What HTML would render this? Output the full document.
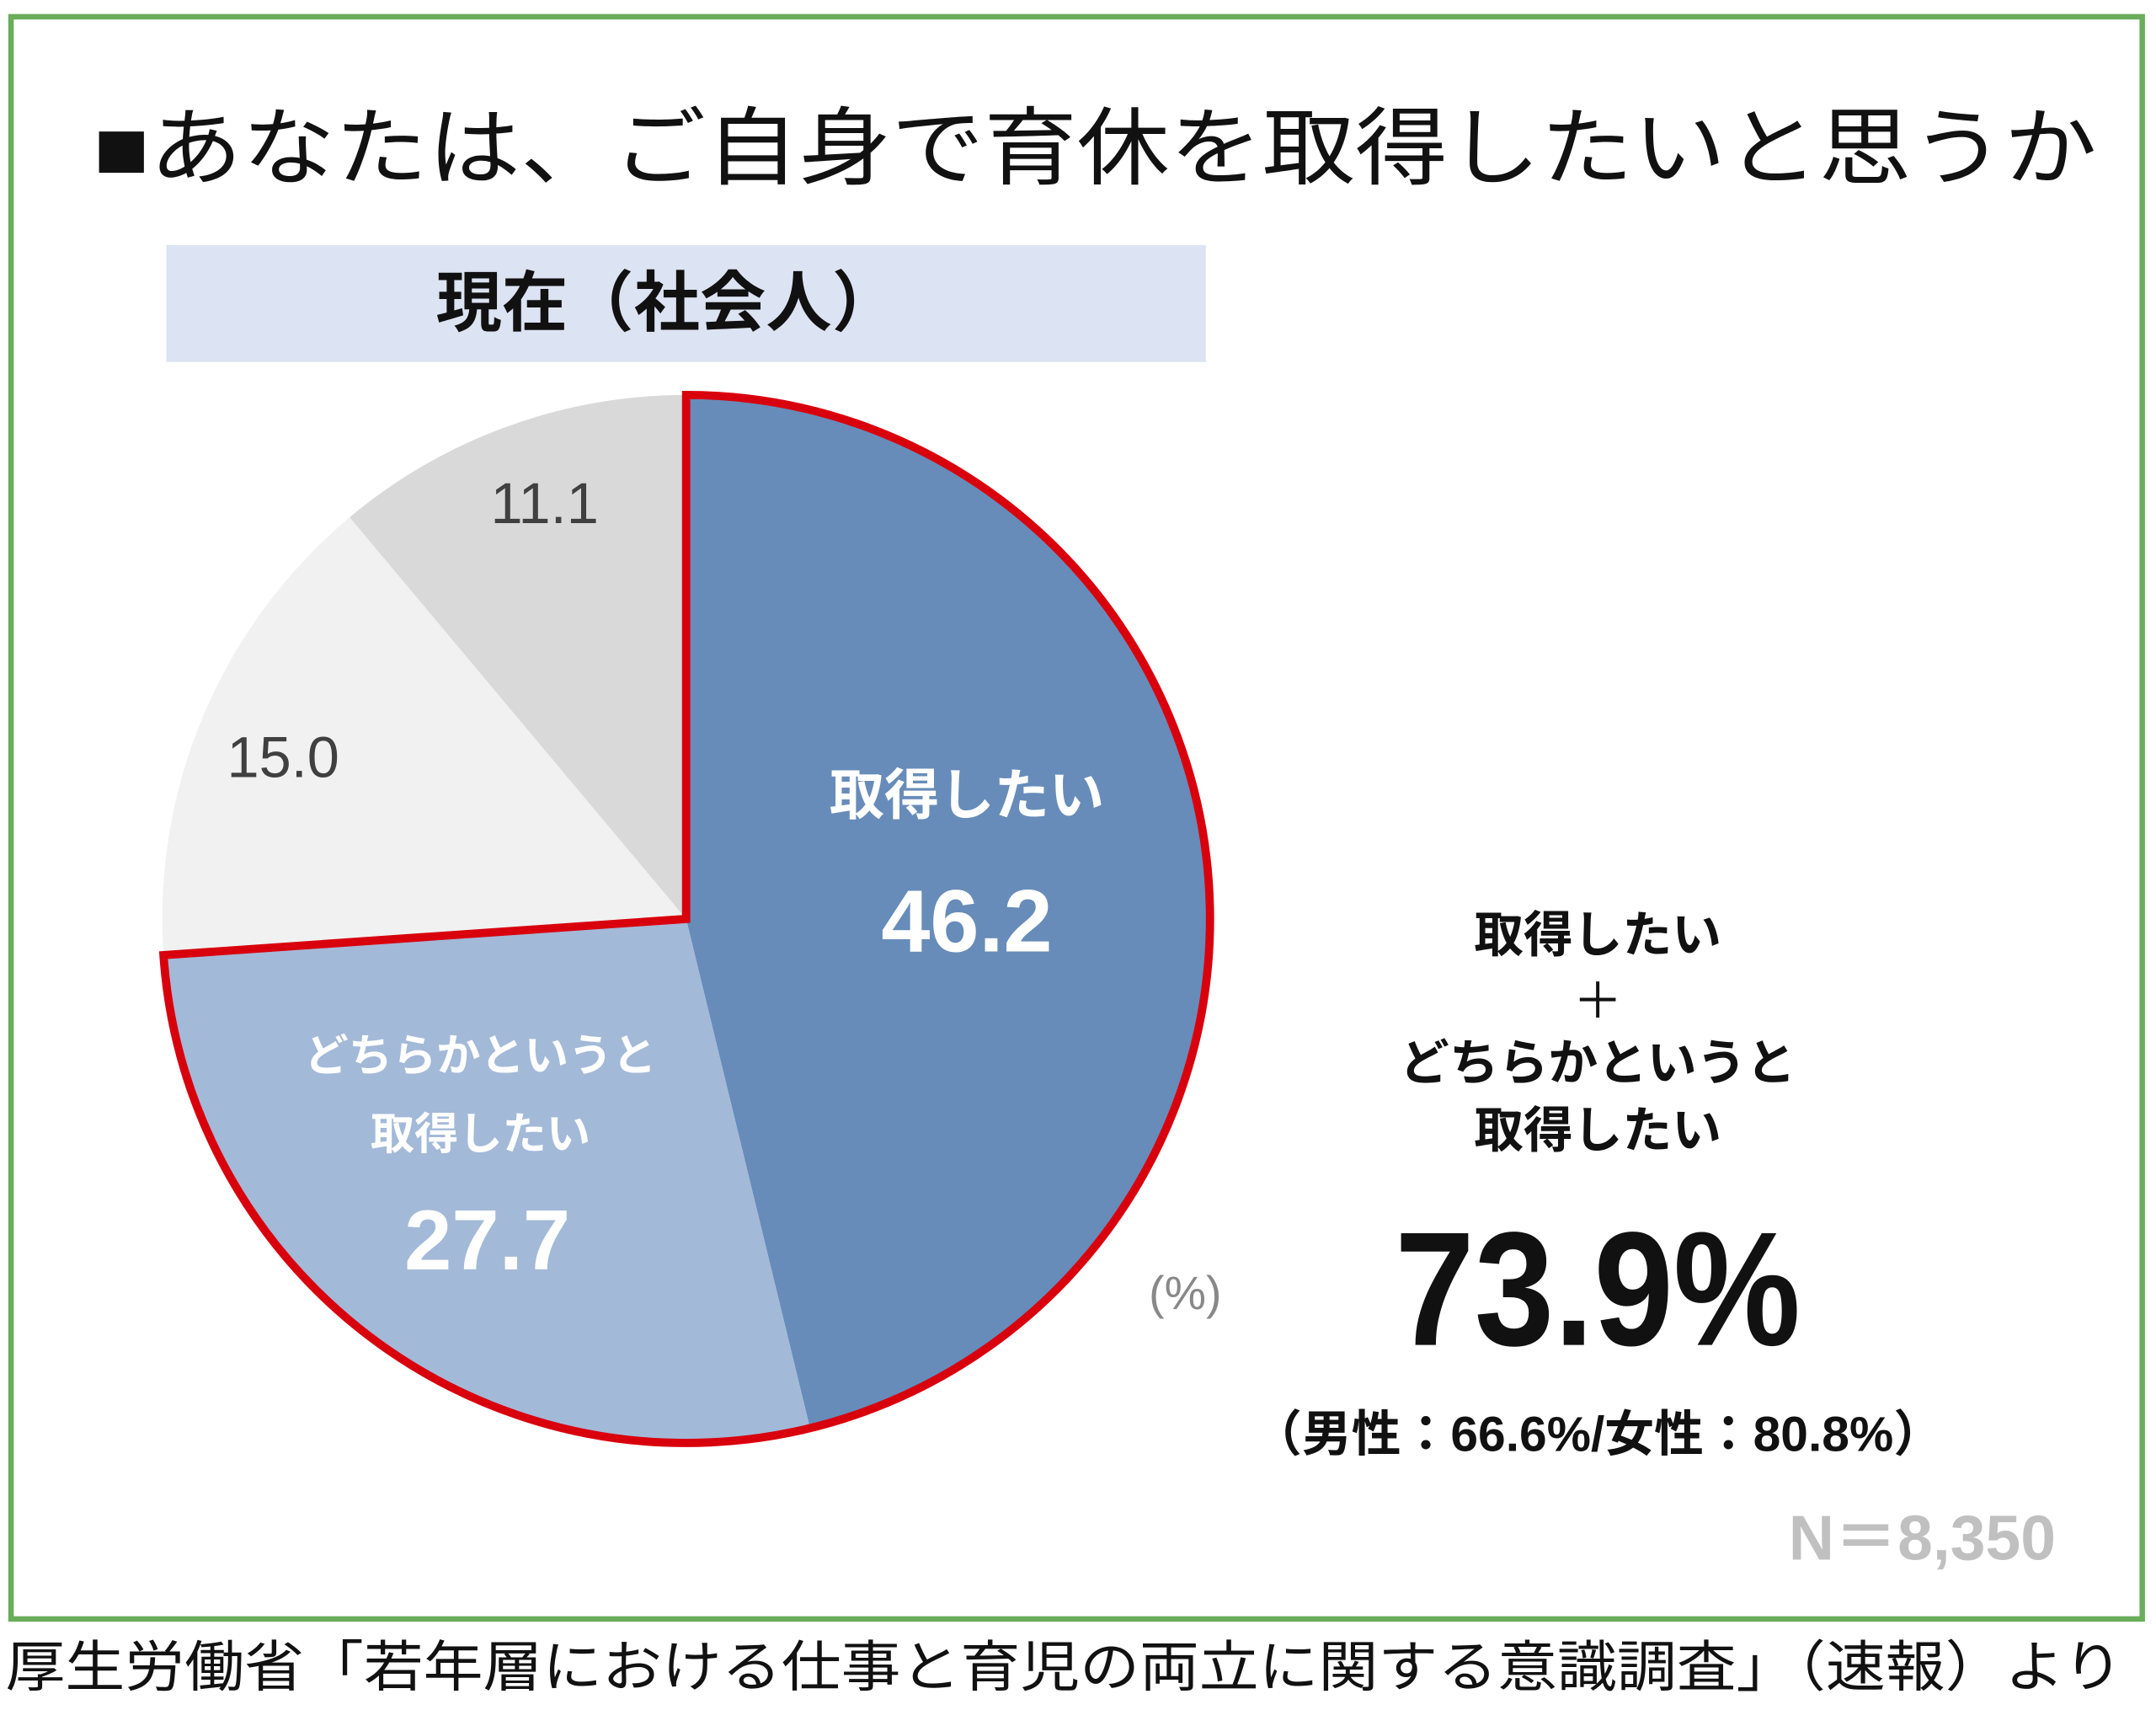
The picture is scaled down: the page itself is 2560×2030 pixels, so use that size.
<!DOCTYPE html>
<html><head><meta charset="utf-8"><style>
html,body{margin:0;padding:0;background:#fff;}
svg{display:block;}
text{font-family:"Liberation Sans","Noto Sans CJK JP",sans-serif;}
</style></head><body>
<svg id="chart" width="2560" height="2030" viewBox="0 0 1568 1243" xmlns="http://www.w3.org/2000/svg">
<rect x="8" y="12" width="1550" height="1165" fill="#fff" stroke="#6aad5a" stroke-width="4"/>
<text x="68" y="108" font-size="62" dominant-baseline="central" fill="#111" textLength="1457" lengthAdjust="spacingAndGlyphs">■あなたは、ご自身で育休を取得したいと思うか</text>
<rect x="121" y="178" width="756" height="85" fill="#dce3f2"/>
<text x="485" y="220" font-size="48" font-weight="bold" text-anchor="middle" dominant-baseline="central" fill="#111">現在（社会人）</text>
<g id="pie"></g>
<text x="862" y="940" font-size="34" text-anchor="middle" dominant-baseline="central" fill="#888">(%)</text>
<g font-weight="bold" text-anchor="middle" fill="#111">
<text x="1162" y="680" font-size="36" dominant-baseline="central">取得したい</text>
<text x="1162" y="728" font-size="36" font-weight="normal" dominant-baseline="central">＋</text>
<text x="1162" y="773" font-size="36" dominant-baseline="central">どちらかというと</text>
<text x="1162" y="822" font-size="36" dominant-baseline="central">取得したい</text>
<text x="1162" y="937" font-size="118" dominant-baseline="central" textLength="295" lengthAdjust="spacingAndGlyphs">73.9%</text>
<text x="1162" y="1043" font-size="36" dominant-baseline="central">（男性：66.6%/女性：80.8%）</text>
</g>
<text x="1398" y="1118" font-size="46" font-weight="bold" text-anchor="middle" dominant-baseline="central" fill="#c0c0c0">N＝8,350</text>
<text x="4" y="1212" font-size="40" dominant-baseline="central" fill="#111" textLength="1540" lengthAdjust="spacingAndGlyphs">厚生労働省「若年層における仕事と育児の両立に関する意識調査」（速報）より</text>
</svg>
<script>
const categories = ["取得したい", "どちらかというと取得したい", "あまり取得したくない", "取得したくない"];
const values = [46.2, 27.7, 15.0, 11.1];
const valueLabels = ["46.2", "27.7", "15.0", "11.1"];
const colors = ["#678cb9", "#a3b9d8", "#f1f1f1", "#d9d9d9"];
const cx = 499, cy = 668, r = 381;
const NS = "http://www.w3.org/2000/svg";
const g = document.getElementById("pie");
const total = values.reduce((a, b) => a + b, 0);
function pt(frac, rad) { const a = frac * 2 * Math.PI - Math.PI / 2; return [cx + rad * Math.cos(a), cy + rad * Math.sin(a)]; }
function arcPath(f0, f1, rad) {
  const p0 = pt(f0, rad), p1 = pt(f1, rad);
  const large = (f1 - f0) > 0.5 ? 1 : 0;
  return `M${cx},${cy} L${p0[0]},${p0[1]} A${rad},${rad} 0 ${large} 1 ${p1[0]},${p1[1]} Z`;
}
let acc = 0;
const fracs = [];
values.forEach((v, i) => {
  const f0 = acc / total; acc += v; const f1 = acc / total;
  fracs.push([f0, f1]);
  const p = document.createElementNS(NS, "path");
  p.setAttribute("d", arcPath(f0, f1, r));
  p.setAttribute("fill", colors[i]);
  
  
  g.appendChild(p);
});
const hl = document.createElementNS(NS, "path");
hl.setAttribute("d", arcPath(fracs[0][0], fracs[1][1], r));
hl.setAttribute("fill", "none");
hl.setAttribute("stroke", "#d9000d");
hl.setAttribute("stroke-width", "6");


g.appendChild(hl);
function txt(x, y, s, size, fill, bold, name) {
  const t = document.createElementNS(NS, "text");
  t.setAttribute("x", x); t.setAttribute("y", y);
  t.setAttribute("font-size", size); t.setAttribute("fill", fill);
  t.setAttribute("text-anchor", "middle"); t.setAttribute("dominant-baseline", "central");
  if (bold) t.setAttribute("font-weight", "bold");
  t.textContent = s;
  
  
  g.appendChild(t);
}
function mid(i, rad) { return pt((fracs[i][0] + fracs[i][1]) / 2, rad); }
let m = mid(0, 260);
txt(m[0] - 54, m[1] - 59, "取得したい", 40, "#fff", true, "slice-1-name");
txt(m[0] - 54, m[1] + 33, valueLabels[0], 64, "#fff", true, "slice-1-value");
m = mid(1, 250);
txt(m[0] - 2, m[1] - 102, "どちらかというと", 32, "#fff", true, "slice-2-name-line1");
txt(m[0] - 2, m[1] - 45, "取得したい", 32, "#fff", true, "slice-2-name-line2");
txt(m[0] + 3, m[1] + 32, valueLabels[1], 62, "#fff", true, "slice-2-value");
m = mid(2, 300);
txt(m[0] - 17, m[1], valueLabels[2], 42, "#404040", false, "slice-3-value");
m = mid(3, 310);
txt(m[0] + 3, m[1] - 11, valueLabels[3], 42, "#404040", false, "slice-4-value");
</script>
</body></html>
